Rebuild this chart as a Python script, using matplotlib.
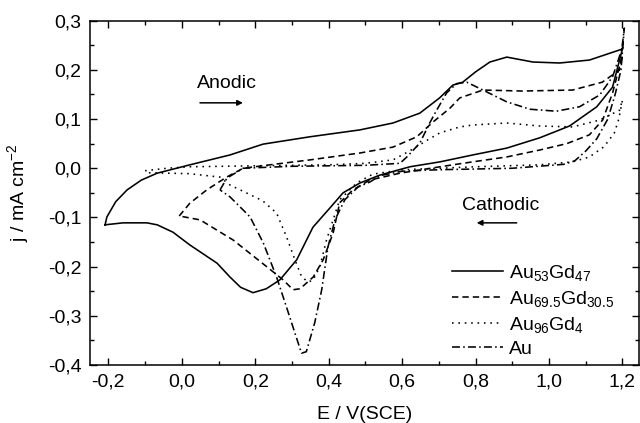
import matplotlib
matplotlib.use("Agg")
import matplotlib.pyplot as plt
from matplotlib.ticker import MultipleLocator, FuncFormatter

plt.rcParams['font.family'] = ['Liberation Sans', 'DejaVu Sans']
plt.rcParams['mathtext.fontset'] = 'custom'
plt.rcParams['mathtext.rm'] = 'Liberation Sans'
plt.rcParams['mathtext.it'] = 'Liberation Sans:italic'
plt.rcParams['mathtext.bf'] = 'Liberation Sans:bold'

# ---- data (E / V(SCE), j / mA cm^-2) ----
E_au53 = [-0.209, -0.204, -0.180, -0.149, -0.110, -0.067, 0.022, 0.131, 0.221, 0.349, 0.485, 0.575, 0.648,
          0.702, 0.738, 0.765, 0.800, 0.839, 0.885, 0.956, 1.029, 1.110, 1.198, 1.201,
          1.173, 1.130, 1.056, 0.975, 0.885, 0.792, 0.703, 0.621, 0.539, 0.485, 0.439,
          0.403, 0.357, 0.313, 0.267, 0.230, 0.194, 0.160, 0.131, 0.096, 0.022, -0.024, -0.067, -0.095,
          -0.160, -0.209]
j_au53 = [-0.115, -0.099, -0.068, -0.044, -0.024, -0.010, 0.007, 0.027, 0.049, 0.064, 0.078, 0.092, 0.112,
          0.143, 0.169, 0.175, 0.196, 0.216, 0.226, 0.216, 0.214, 0.220, 0.242, 0.246,
          0.165, 0.125, 0.086, 0.062, 0.041, 0.027, 0.013, 0.003, -0.014, -0.030, -0.050,
          -0.081, -0.120, -0.186, -0.227, -0.245, -0.253, -0.242, -0.221, -0.193, -0.156, -0.130, -0.115, -0.111,
          -0.111, -0.115]

E_au69 = [-0.007, 0.022, 0.068, 0.122, 0.167, 0.240, 0.349, 0.485, 0.575, 0.640, 0.684,
          0.730, 0.757, 0.820, 0.928, 1.064, 1.145, 1.192, 1.200,
          1.173, 1.146, 1.110, 1.048, 0.974, 0.885, 0.792, 0.703, 0.594, 0.512, 0.466,
          0.430, 0.412, 0.385, 0.358, 0.322, 0.303, 0.276, 0.231, 0.140, 0.050, -0.007]
j_au69 = [-0.097, -0.071, -0.044, -0.018, 0.000, 0.007, 0.017, 0.031, 0.043, 0.064, 0.094,
          0.122, 0.143, 0.159, 0.157, 0.159, 0.175, 0.200, 0.230,
          0.153, 0.098, 0.068, 0.050, 0.037, 0.023, 0.013, 0.003, -0.010, -0.024, -0.044,
          -0.070, -0.132, -0.186, -0.221, -0.245, -0.247, -0.227, -0.200, -0.146, -0.105, -0.097]

E_au96 = [-0.100, -0.040, 0.020, 0.200, 0.400, 0.500, 0.575, 0.620, 0.668, 0.703, 0.757,
          0.793, 0.885, 0.974, 1.064, 1.138, 1.192, 1.200,
          1.190, 1.178, 1.150, 1.110, 1.064, 0.974, 0.800, 0.600, 0.520, 0.476, 0.430,
          0.412, 0.394, 0.376, 0.357, 0.343, 0.326, 0.308, 0.285, 0.258, 0.220, 0.159,
          0.131, 0.104, 0.020, -0.100]
j_au96 = [-0.005, 0.000, 0.003, 0.005, 0.007, 0.010, 0.017, 0.035, 0.057, 0.072, 0.084,
          0.088, 0.092, 0.086, 0.084, 0.098, 0.118, 0.139,
          0.100, 0.072, 0.044, 0.023, 0.013, 0.007, 0.003, -0.003, -0.012, -0.030, -0.064,
          -0.105, -0.146, -0.200, -0.228, -0.231, -0.220, -0.186, -0.139, -0.091, -0.066, -0.044,
          -0.034, -0.018, -0.011, -0.009]

E_au = [0.104, 0.123, 0.167, 0.300, 0.500, 0.594, 0.613, 0.648, 0.675, 0.694, 0.721, 0.748,
        0.776, 0.820, 0.885, 0.948, 1.020, 1.083, 1.138, 1.173, 1.198, 1.205,
        1.196, 1.180, 1.160, 1.130, 1.100, 1.070, 1.040, 0.900, 0.700, 0.600, 0.540, 0.512,
        0.480, 0.444, 0.417, 0.398, 0.381, 0.362, 0.339, 0.326, 0.308, 0.285, 0.258,
        0.222, 0.186, 0.131, 0.104]
j_au = [-0.044, -0.020, 0.000, 0.004, 0.006, 0.010, 0.023, 0.051, 0.092, 0.118, 0.153, 0.172,
        0.175, 0.159, 0.135, 0.120, 0.116, 0.125, 0.149, 0.186, 0.241, 0.285,
        0.200, 0.150, 0.100, 0.060, 0.035, 0.015, 0.008, 0.000, -0.003, -0.006, -0.015, -0.028,
        -0.038, -0.064, -0.105, -0.160, -0.247, -0.314, -0.373, -0.376, -0.335, -0.282, -0.221,
        -0.152, -0.099, -0.058, -0.044]

labels = [r'Au$_{53}$Gd$_{47}$', r'Au$_{69.5}$Gd$_{30.5}$', r'Au$_{96}$Gd$_{4}$', 'Au']

fig = plt.figure(figsize=(6.4, 4.23), dpi=100)
ax = fig.add_axes([90/640, 1-365/423, 549/640, (365-20.7)/423])

lw = 1.15
ax.plot(E_au53, j_au53, color='black', lw=lw, linestyle='-', label=labels[0])
ax.plot(E_au69, j_au69, color='black', lw=lw, linestyle=(0, (4, 2.5)), label=labels[1])
ax.plot(E_au96, j_au96, color='black', lw=lw, linestyle=(0, (1, 3)), label=labels[2])
ax.plot(E_au, j_au, color='black', lw=lw, linestyle=(0, (5, 2, 1, 2)), label=labels[3])

ax.set_xlim(-0.25, 1.245)
ax.set_ylim(-0.4, 0.3)
ax.xaxis.set_major_locator(MultipleLocator(0.2))
ax.xaxis.set_minor_locator(MultipleLocator(0.1))
ax.yaxis.set_major_locator(MultipleLocator(0.1))
ax.yaxis.set_minor_locator(MultipleLocator(0.05))
fmt = FuncFormatter(lambda v, p: f"{v:.1f}".replace('.', ',') if abs(v) > 1e-9 else "0,0")
ax.xaxis.set_major_formatter(fmt)
ax.yaxis.set_major_formatter(fmt)
ax.tick_params(which='both', direction='in', top=True, right=True, labelsize=14, width=1.0)
ax.tick_params(which='major', length=5, pad=6)
ax.tick_params(which='minor', length=3)
for s in ax.spines.values():
    s.set_linewidth(1.1)

ax.set_xlabel('E / V(SCE)', fontsize=14, labelpad=11)
ax.set_ylabel(r'j / mA cm$^{-2}$', fontsize=14, labelpad=12)

ax.text(0.042, 0.173, 'Anodic', fontsize=14, ha='left', va='center')
ax.annotate('', xy=(0.1665, 0.133), xytext=(0.0495, 0.133),
            arrowprops=dict(arrowstyle='-|>', color='black', lw=1.1, mutation_scale=8,
                            shrinkA=0, shrinkB=0))
ax.text(0.762, -0.075, 'Cathodic', fontsize=14, ha='left', va='center')
ax.annotate('', xy=(0.803, -0.111), xytext=(0.912, -0.111),
            arrowprops=dict(arrowstyle='-|>', color='black', lw=1.1, mutation_scale=8,
                            shrinkA=0, shrinkB=0))

ax.legend(loc='upper left', bbox_to_anchor=(0.66, 0.296), frameon=False, fontsize=14,
          handlelength=2.6, handletextpad=0.3, labelspacing=0.3, borderpad=0, borderaxespad=0)

fig.savefig('out.png', dpi=100)
